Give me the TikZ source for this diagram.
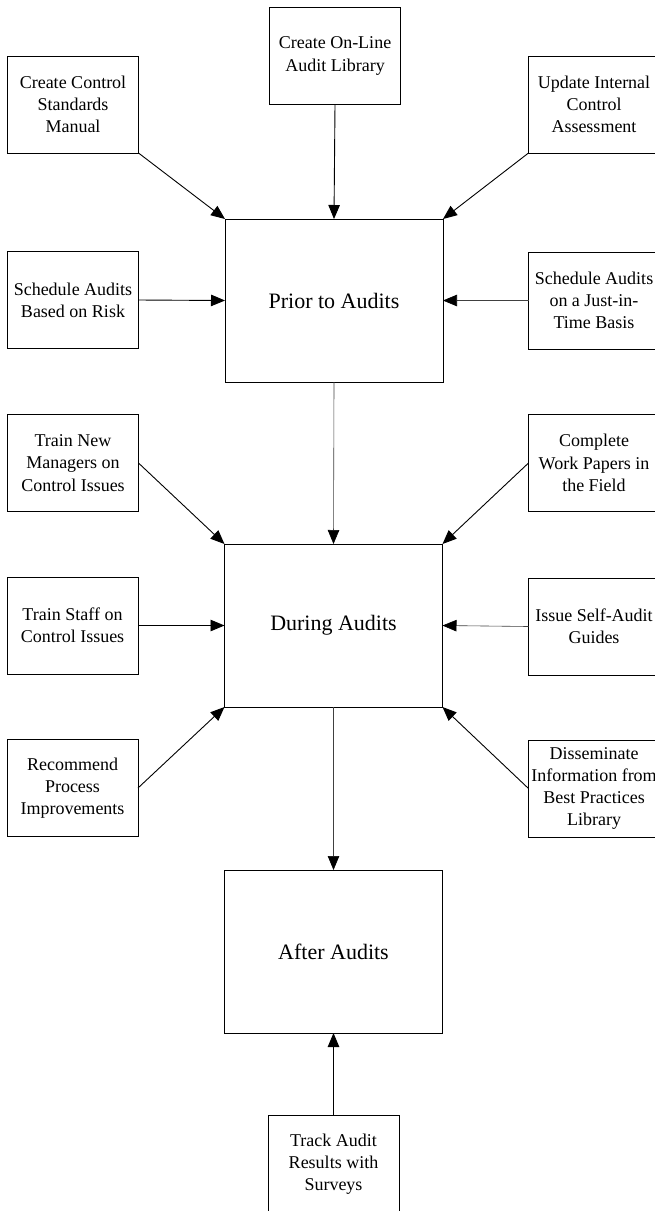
\documentclass[tikz,border=0pt]{standalone}
\usepackage{fontspec}
\setmainfont{Liberation Serif}
\usetikzlibrary{arrows.meta}
\begin{document}
\begin{tikzpicture}[x=1pt,y=-1pt,
  smallbox/.style={draw, line width=1pt, minimum width=131pt, minimum height=97pt,
    inner sep=0pt, outer sep=0pt, align=center, font=\fontsize{18}{22.3}\selectfont},
  bigbox/.style={draw, line width=1pt, minimum width=218pt, minimum height=163pt,
    inner sep=0pt, outer sep=0pt, align=center, font=\fontsize{22}{26}\selectfont},
  conn/.style={line width=0.9pt, -{Triangle[length=14pt,width=11.5pt]}},
  thinconn/.style={line width=0.6pt, draw=black!75, -{Triangle[length=14pt,width=11.5pt,color=black]}}
]
\useasboundingbox (0,0) rectangle (655,1211);

% main boxes
\node[bigbox] (prior) at (334,300.5) {Prior to Audits};
\node[bigbox] (during) at (333.5,625.5) {During Audits};
\node[bigbox] (after) at (333.5,951.5) {After Audits};

% top row
\node[smallbox] (ccm) at (73,104.5) {Create Control\\Standards\\Manual};
\node[smallbox] (oal) at (335,56) {Create On-Line\\Audit Library};
\node[smallbox] (uic) at (594,104.5) {Update Internal\\Control\\Assessment};

% prior side
\node[smallbox] (sar) at (73,300) {Schedule Audits\\Based on Risk};
\node[smallbox] (jit) at (594,300.5) {Schedule Audits\\on a Just-in-\\Time Basis};

% during upper
\node[smallbox] (tnm) at (73,463) {Train New\\Managers on\\Control Issues};
\node[smallbox] (cwp) at (594,463) {Complete\\Work Papers in\\the Field};

% during side
\node[smallbox] (tsc) at (72.5,625.5) {Train Staff on\\Control Issues};
\node[smallbox] (isa) at (594,626.5) {Issue Self-Audit\\Guides};

% during lower
\node[smallbox] (rpi) at (72.5,788) {Recommend\\Process\\Improvements};
\node[smallbox] (dis) at (594,788.5) {Disseminate\\Information from\\Best Practices\\Library};

% after
\node[smallbox] (track) at (333.5,1164) {Track Audit\\Results with\\Surveys};

% connectors
\draw[conn] (ccm.south east) -- (prior.north west);
\draw[conn] (oal.south) -- (prior.north);
\draw[conn] (uic.south west) -- (prior.north east);
\draw[conn] (sar.east) -- (prior.west);
\draw[thinconn] (jit.west) -- (prior.east);

\draw[thinconn] (prior.south) -- (during.north);
\draw[conn] (tnm.east) -- (during.north west);
\draw[conn] (cwp.west) -- (during.north east);
\draw[conn] (tsc.east) -- (during.west);
\draw[thinconn] (isa.west) -- (during.east);
\draw[conn] (rpi.east) -- (during.south west);
\draw[conn] (dis.west) -- (during.south east);

\draw[thinconn] (during.south) -- (after.north);
\draw[conn] (track.north) -- (after.south);
\end{tikzpicture}
\end{document}
